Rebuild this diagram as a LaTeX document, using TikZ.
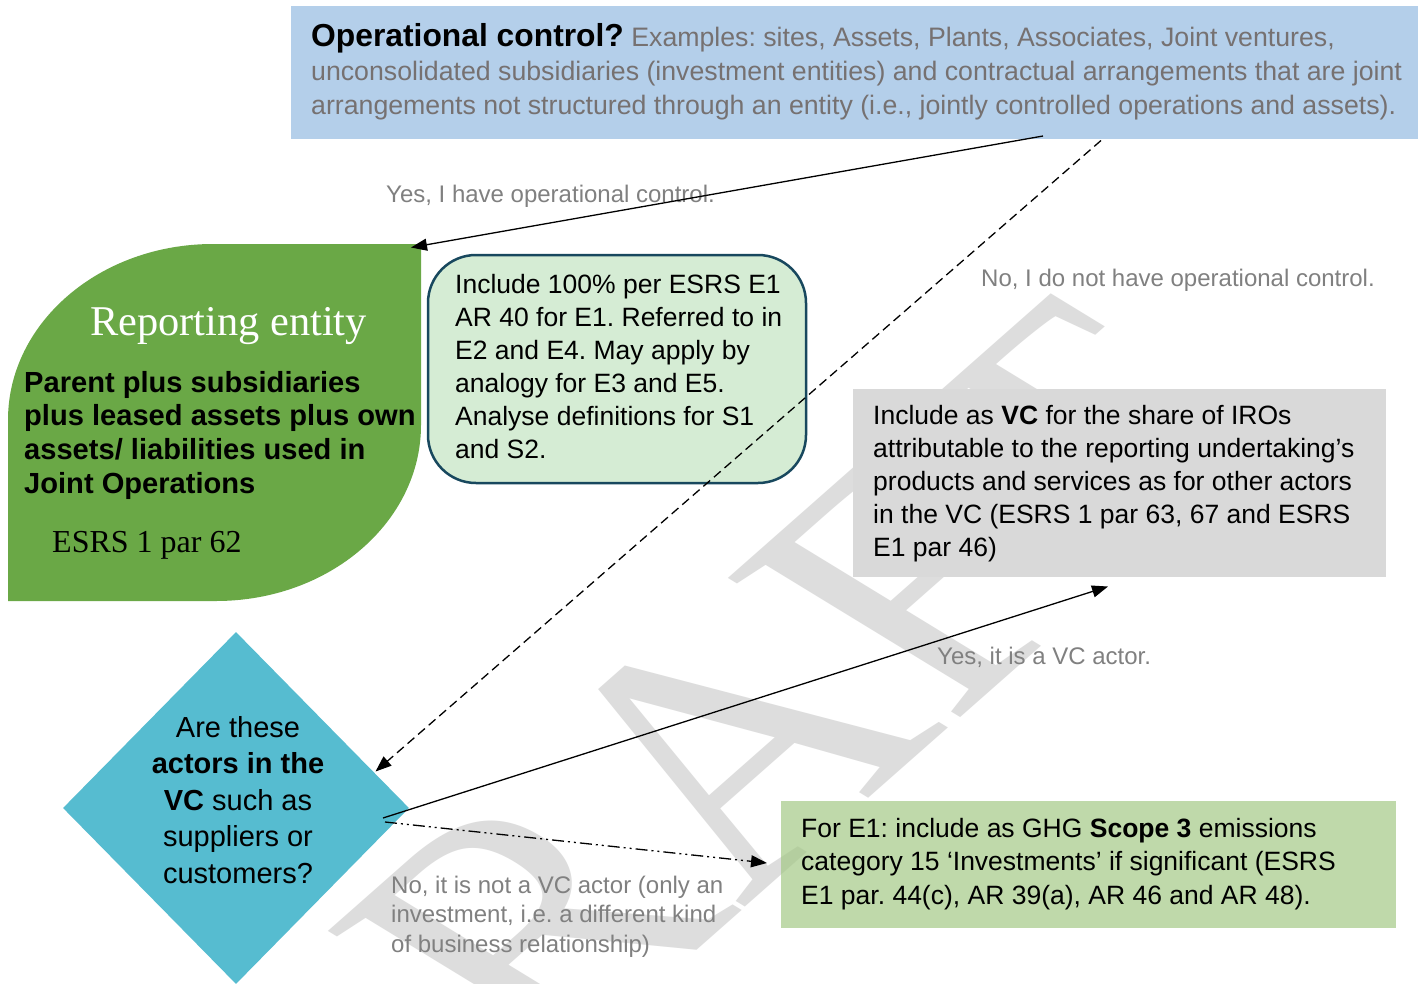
\documentclass[tikz,border=0pt]{standalone}
\usepackage{fontspec}
\setmainfont{Liberation Sans}
\newfontfamily\timesfont{Liberation Serif}
\usetikzlibrary{shapes.geometric,arrows.meta}
\definecolor{topblue}{RGB}{180,207,234}
\definecolor{leafgreen}{RGB}{106,168,70}
\definecolor{mintfill}{RGB}{213,236,212}
\definecolor{mintdraw}{RGB}{24,72,94}
\definecolor{greybox}{RGB}{217,217,217}
\definecolor{diamondblue}{RGB}{86,188,208}
\definecolor{sagefill}{RGB}{164,201,134}
\definecolor{labelgrey}{RGB}{128,128,128}
\definecolor{examplegrey}{RGB}{118,113,113}
\definecolor{wmgrey}{RGB}{221,221,221}
\newcommand\txtblock[2]{\parbox[t]{#1}{\leavevmode#2}}
\frenchspacing
\begin{document}
\begin{tikzpicture}[x=1pt,y=-1pt,
  body/.style={inner sep=0pt, anchor=base west, font=\fontsize{26.5}{33}\selectfont},
  lbl/.style={inner sep=0pt, anchor=base west, text=labelgrey, font=\fontsize{24}{29.5}\selectfont},
  conn/.style={line width=1.3pt, -{Triangle[length=16pt,width=12pt]}},
  box/.style={inner sep=0pt, anchor=north west, draw=none, outer sep=0pt}
]
\useasboundingbox (0,0) rectangle (1421,983);
\fill[white] (0,0) rectangle (1421,983);

% watermark (slanted, stretched DRAFT)
\begin{scope}[cm={2.88,2.54,-3.52,2.15,(342,1263)}]
\node[transform shape, inner sep=0pt, anchor=base west, text=wmgrey, font=\timesfont\fontsize{100}{100}\selectfont] (wm) at (0,0) {DRAFT};
\end{scope}

% top box
\node[box, fill=topblue, minimum width=1127pt, minimum height=133pt] (ops) at (291,6) {};
\node[body, text=examplegrey, font=\fontsize{26.7}{34}\selectfont] (opstext) at (311,46)
  {\txtblock{1100pt}{\raggedright{\color{black}\fontsize{31.8}{34}\selectfont\bfseries Operational control?} Examples: sites, Assets, Plants, Associates, Joint ventures,\\
  unconsolidated subsidiaries (investment entities) and contractual arrangements that are joint\\
  arrangements not structured through an entity (i.e., jointly controlled operations and assets).}};

% reporting entity leaf
\path[fill=leafgreen] (8,601) -- (8,420)
  arc[start angle=180,end angle=90,x radius=205pt,y radius=176pt] -- (421,244) -- (421,425)
  arc[start angle=0,end angle=-90,x radius=205pt,y radius=176pt] -- cycle;
\node[box, minimum width=413pt, minimum height=357pt] (entity) at (8,244) {};
\node[inner sep=0pt, anchor=base, text=white, font=\timesfont\fontsize{42.4}{50}\selectfont] (entitytitle) at (228.5,335) {Reporting entity};
\node[body, font=\fontsize{29.1}{33.7}\selectfont\bfseries] (entitytext) at (24,392)
  {\txtblock{420pt}{\raggedright Parent plus subsidiaries\\plus leased assets plus own\\assets/ liabilities used in\\Joint Operations}};
\node[inner sep=0pt, anchor=base west, font=\timesfont\fontsize{32}{38}\selectfont] (entityref) at (52,552) {ESRS 1 par 62};

% include 100% box
\node[box, fill=mintfill, draw=mintdraw, line width=2.5pt, rounded corners=48pt, minimum width=378pt, minimum height=228pt] (incl) at (428,255) {};
\node[body] (incltext) at (455,293)
  {\txtblock{360pt}{\raggedright Include 100\% per ESRS E1\\AR 40 for E1. Referred to in\\E2 and E4. May apply by\\analogy for E3 and E5.\\Analyse definitions for S1\\and S2.}};

% VC grey box
\node[box, fill=greybox, minimum width=533pt, minimum height=188pt] (vcbox) at (853,389) {};
\node[body] (vcboxtext) at (873,424.5)
  {\txtblock{520pt}{\raggedright Include as \textbf{VC} for the share of IROs\\attributable to the reporting undertaking’s\\products and services as for other actors\\in the VC (ESRS 1 par 63, 67 and ESRS\\E1 par 46)}};

% diamond
\node[diamond, fill=diamondblue, minimum width=346pt, minimum height=352pt, inner sep=0pt] (vc) at (236,808) {};
\node[inner sep=0pt, anchor=base, font=\fontsize{29}{36.5}\selectfont] (vctext) at (238,737)
  {\txtblock{300pt}{\centering Are these\\\textbf{actors in the}\\\textbf{VC} such as\\suppliers or\\customers?}};

% scope 3 box
\node[box, fill=sagefill, fill opacity=0.7, minimum width=615pt, minimum height=127pt] (scope) at (781,801) {};
\node[body, font=\fontsize{26.5}{33.5}\selectfont] (scopetext) at (801,837)
  {\txtblock{600pt}{\raggedright For E1: include as GHG \textbf{Scope 3} emissions\\category 15 ‘Investments’ if significant (ESRS\\E1 par. 44(c), AR 39(a), AR 46 and AR 48).}};

% labels
\node[lbl] (l1) at (386,202) {Yes, I have operational control.};
\node[lbl] (l2) at (981,286) {No, I do not have operational control.};
\node[lbl] (l3) at (937,664) {Yes, it is a VC actor.};
\node[lbl] (l4) at (391,893) {\txtblock{400pt}{\raggedright No, it is not a VC actor (only an\\investment, i.e. a different kind\\of business relationship)}};

% connector ends
\coordinate (opsA) at (1043,136);
\coordinate (opsB) at (1101,140.5);
\coordinate (entityTip) at (411,247.5);
\coordinate (vcIn) at (375.5,771.5);
\coordinate (vcOutA) at (383,818);
\coordinate (vcOutB) at (385,822);
\coordinate (vcboxIn) at (1108,586.5);
\coordinate (scopeIn) at (767,863);

\draw[conn] (opsA) -- (entityTip);
\draw[conn, dash pattern=on 9pt off 5pt] (opsB) -- (vcIn);
\draw[conn] (vcOutA) -- (vcboxIn);
\draw[conn, dash pattern=on 12pt off 4pt on 2pt off 4pt on 2pt off 4pt] (vcOutB) -- (scopeIn);
\end{tikzpicture}
\end{document}
